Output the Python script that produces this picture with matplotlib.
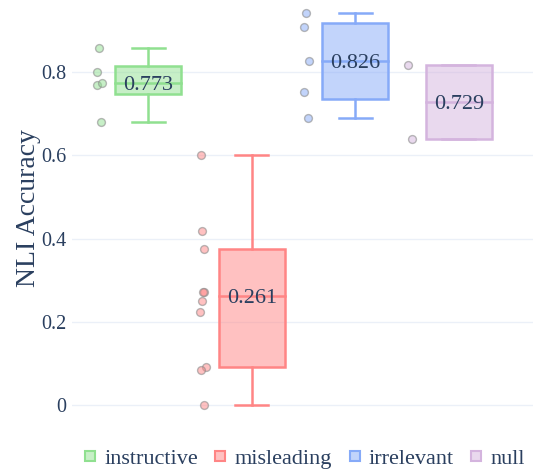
import numpy as np
import matplotlib
matplotlib.use("Agg")
import matplotlib.pyplot as plt
from matplotlib.lines import Line2D

# ---- data ----
categories = ["instructive", "misleading", "irrelevant", "null"]
instructive = [0.857, 0.801, 0.770, 0.773, 0.681]
misleading = [0.600, 0.418, 0.376, 0.272, 0.272, 0.250, 0.224, 0.092, 0.084, 0.000]
irrelevant = [0.941, 0.909, 0.826, 0.751, 0.690]
null = [0.818, 0.640]
values = [instructive, misleading, irrelevant, null]
y_ticks = [0, 0.2, 0.4, 0.6, 0.8]
y_tick_labels = ["0", "0.2", "0.4", "0.6", "0.8"]

# ---- style ----
line_colors = ["#90e090", "#ff8585", "#86aaf8", "#d4b4de"]
point_offsets = [
    [-0.476, -0.496, -0.493, -0.444, -0.457],
    [-0.495, -0.482, -0.466, -0.466, -0.472, -0.478, -0.498, -0.447, -0.495, -0.460],
    [-0.481, -0.497, -0.446, -0.494, -0.454],
    [-0.488, -0.455],
]
TEXT = "#2a3f5f"
GRID = "#ebf0f8"
plt.rcParams["font.family"] = ["Liberation Serif", "DejaVu Serif"]

fig = plt.figure(figsize=(5.33, 4.72), dpi=100)
ax = fig.add_axes([72 / 533, (472 - 430) / 472, (533 - 72) / 533, 430 / 472])

box_w = 0.638
for i, (vals, col) in enumerate(zip(values, line_colors)):
    v = np.sort(np.array(vals))
    q1, med, q3 = np.percentile(v, [25, 50, 75], method="hazen")
    iqr = q3 - q1
    lo = v[v >= q1 - 1.5 * iqr].min()
    hi = v[v <= q3 + 1.5 * iqr].max()
    fill = matplotlib.colors.to_rgba(col, 0.5)
    ax.add_patch(plt.Rectangle((i - box_w / 2, q1), box_w, q3 - q1,
                               facecolor=fill, edgecolor=col, lw=1.8, zorder=3))
    ax.plot([i - box_w / 2, i + box_w / 2], [med, med], color=col, lw=1.8, zorder=4)
    ax.plot([i, i], [q3, hi], color=col, lw=1.8, zorder=3)
    ax.plot([i, i], [lo, q1], color=col, lw=1.8, zorder=3)
    ax.plot([i - box_w / 4, i + box_w / 4], [hi, hi], color=col, lw=1.8, zorder=3)
    ax.plot([i - box_w / 4, i + box_w / 4], [lo, lo], color=col, lw=1.8, zorder=3)
    xs = [i + o for o in point_offsets[i]]
    ax.scatter(xs, vals, s=32, facecolor=fill, edgecolor=(0.55, 0.55, 0.55, 0.6),
               linewidth=1, zorder=5)
    ax.text(i, med, f"{med:.3f}", ha="center", va="center_baseline",
            fontsize=16, color=TEXT, zorder=6)

ax.set_xlim(-0.737, 3.717)
ax.set_ylim(-0.060, 0.973)
ax.set_yticks(y_ticks)
ax.set_yticklabels(y_tick_labels)
ax.set_xticks([])
ax.tick_params(axis="y", length=0, pad=4, labelsize=14.5, labelcolor=TEXT)
for s in ax.spines.values():
    s.set_visible(False)
ax.grid(axis="y", color=GRID, lw=1)
ax.set_axisbelow(True)
ax.set_ylabel("NLI Accuracy", fontsize=20, color=TEXT)
ax.yaxis.set_label_coords(-0.067, 0.515)

handles = [Line2D([], [], marker="s", linestyle="none", markersize=7.5,
                  markerfacecolor=matplotlib.colors.to_rgba(c, 0.5),
                  markeredgecolor=c, markeredgewidth=1.5) for c in line_colors]
fig.legend(handles, categories, loc="center", bbox_to_anchor=(0.572, 0.029),
           ncol=4, frameon=False, fontsize=16, labelcolor=TEXT,
           handlelength=0.5, handletextpad=0.4, columnspacing=0.75,
           borderaxespad=0, borderpad=0)

fig.savefig("out.png", dpi=100)
